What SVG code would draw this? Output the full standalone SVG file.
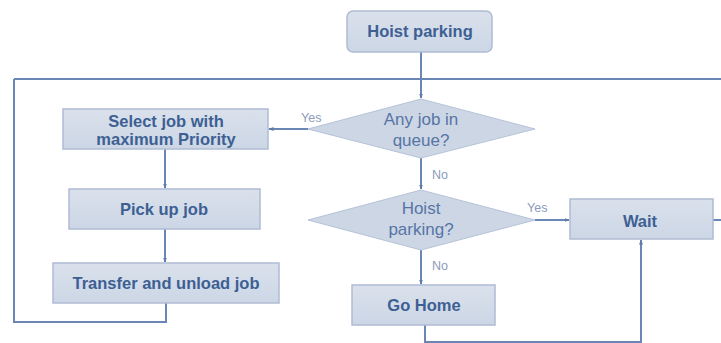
<svg xmlns="http://www.w3.org/2000/svg" width="721" height="343" viewBox="0 0 721 343">
<defs>
<marker id="arr" viewBox="0 0 10 10" refX="9" refY="5" markerWidth="5" markerHeight="5" orient="auto-start-reverse" markerUnits="userSpaceOnUse">
<path d="M0,1 L10,5 L0,9 z" fill="#5d7bab"/>
</marker>
<linearGradient id="g" x1="0" y1="0" x2="0" y2="1">
<stop offset="0" stop-color="#dae1ec"/>
<stop offset="1" stop-color="#ccd6e5"/>
</linearGradient>
</defs>
<style>
.box{fill:url(#g);stroke:#aebcd3;stroke-width:1.5}
.dia{fill:#cdd6e5;stroke:#b5c2d8;stroke-width:1}
.t{font-family:"Liberation Sans",Arial,sans-serif;font-weight:bold;font-size:16.5px;fill:#3d5f93;text-anchor:middle}
.dt{font-family:"Liberation Sans",Arial,sans-serif;font-size:17px;fill:#5675a5;text-anchor:middle}
.lb{font-family:"Liberation Sans",Arial,sans-serif;font-size:12.5px;fill:#8c9bbb}
.c{fill:none;stroke:#6a86b4;stroke-width:2}
</style>
<rect width="721" height="343" fill="#ffffff"/>
<g id="connectors">
<path class="c" d="M421,52 V98" marker-end="url(#arr)"/>
<path class="c" d="M14,79 H721"/>
<path class="c" d="M308,129 H269" marker-end="url(#arr)"/>
<path class="c" d="M165,149 V188" marker-end="url(#arr)"/>
<path class="c" d="M165,229 V262" marker-end="url(#arr)"/>
<path class="c" d="M166,303 V322 H14 V79"/>
<path class="c" d="M421,158 V189" marker-end="url(#arr)"/>
<path class="c" d="M535,220 H569" marker-end="url(#arr)"/>
<path class="c" d="M421,250 V284" marker-end="url(#arr)"/>
<path class="c" d="M425,325 V342 H641 V240" marker-end="url(#arr)"/>
<path class="c" d="M713,220 H721"/>
<text class="lb" x="301" y="122">Yes</text>
<text class="lb" x="432" y="179">No</text>
<text class="lb" x="527" y="212">Yes</text>
<text class="lb" x="432" y="270">No</text>
</g>
<g id="hoist-parking">
<rect class="box" x="347" y="11" width="145" height="41" rx="6"/>
<text class="t" x="420" y="37">Hoist parking</text>
</g>
<g id="any-job">
<polygon class="dia" points="421,99 535,129 421,158 308,129"/>
<text class="dt" x="421" y="125">Any job in</text>
<text class="dt" x="421" y="146">queue?</text>
</g>
<g id="select-job">
<rect class="box" x="63" y="109" width="205" height="40"/>
<text class="t" x="166" y="127">Select job with</text>
<text class="t" x="166" y="145">maximum Priority</text>
</g>
<g id="pick-up">
<rect class="box" x="69" y="189" width="191" height="40"/>
<text class="t" x="164" y="215">Pick up job</text>
</g>
<g id="transfer">
<rect class="box" x="53" y="263" width="226" height="40"/>
<text class="t" x="166" y="289">Transfer and unload job</text>
</g>
<g id="hoist-parking-q">
<polygon class="dia" points="421,190 535,220 421,250 308,220"/>
<text class="dt" x="421" y="214">Hoist</text>
<text class="dt" x="421" y="235">parking?</text>
</g>
<g id="wait">
<rect class="box" x="570" y="199" width="143" height="40"/>
<text class="t" x="640" y="227">Wait</text>
</g>
<g id="go-home">
<rect class="box" x="352" y="285" width="143" height="40"/>
<text class="t" x="424" y="311">Go Home</text>
</g>
</svg>
